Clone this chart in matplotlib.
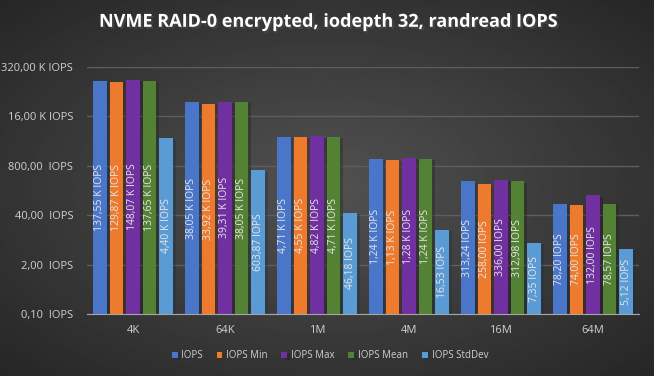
import matplotlib
matplotlib.use("Agg")
import matplotlib.pyplot as plt
import matplotlib.patheffects as pe
import numpy as np

categorias = ["4K", "64K", "1M", "4M", "16M", "64M"]
series = ["IOPS", "IOPS Min", "IOPS Max", "IOPS Mean", "IOPS StdDev"]
iops = [137550, 38050, 4710, 1240, 313.24, 78.20]
iops_min = [129870, 33920, 4550, 1130, 258.00, 74.00]
iops_max = [148070, 39310, 4820, 1280, 336.00, 132.00]
iops_mean = [137650, 38050, 4710, 1240, 312.98, 78.57]
iops_std = [4400, 603.87, 46.18, 16.53, 7.35, 5.12]
valores = [iops, iops_min, iops_max, iops_mean, iops_std]
colores = ["#4a76c9", "#ee7a2d", "#7030a0", "#548235", "#5a9bd5"]
ticks_y = [0.1, 2, 40, 800, 16000, 320000]


def fmt(v, doble=False):
    if v >= 1000:
        s = f"{v / 1000:.2f} K IOPS"
    else:
        s = f"{v:.2f}" + ("  IOPS" if doble else " IOPS")
    return s.replace(".", ",")


plt.rcParams["font.family"] = ["Open Sans", "DejaVu Sans"]
fig = plt.figure(figsize=(6.54, 3.76), dpi=100)

# fondo con degradado radial
bg = fig.add_axes([0, 0, 1, 1], zorder=-10)
yy, xx = np.mgrid[-1:1:200j, -1:1:300j]
r = np.sqrt(xx ** 2 + yy ** 2) / np.sqrt(2)
bg.imshow(0.32 - 0.17 * r, cmap="gray", vmin=0, vmax=1, aspect="auto",
          extent=[0, 1, 0, 1])
bg.axis("off")

ax = fig.add_axes([0.133, 0.165, 0.844, 0.657])
ax.set_facecolor("none")
ax.set_yscale("log")
ax.set_ylim(0.1, 320000)
ax.set_xlim(-0.5, len(categorias) - 0.5)

x = np.arange(len(categorias))
paso = 0.18
ancho = 0.148
for i, (nombre, vals, col) in enumerate(zip(series, valores, colores)):
    pos = x + (i - 2) * paso
    barras = ax.bar(pos, np.array(vals) - 0.1, bottom=0.1, width=ancho,
                    color=col, label=nombre, zorder=3)
    for b in barras:
        b.set_path_effects([pe.SimplePatchShadow(offset=(2, -1), alpha=0.35),
                            pe.Normal()])
    for p, v in zip(pos, vals):
        ax.text(p, np.sqrt(0.1 * v), fmt(v), rotation=90, ha="center",
                va="center", fontsize=7.5, color="#e6e6e6", zorder=4)

ax.set_yticks(ticks_y)
ax.set_yticklabels([fmt(t, doble=True) for t in ticks_y])
ax.minorticks_off()
ax.set_xticks(x)
ax.set_xticklabels(categorias)
ax.tick_params(axis="y", length=0, pad=10, labelsize=8, labelcolor="#d0d0d0")
ax.tick_params(axis="x", length=0, pad=8, labelsize=8, labelcolor="#d0d0d0")
ax.grid(axis="y", color="#5e5e5e", linewidth=1, zorder=0)
for lado in ["top", "right", "left"]:
    ax.spines[lado].set_visible(False)
ax.spines["bottom"].set_color("#a6a6a6")
ax.spines["bottom"].set_zorder(5)

fig.text(0.5, 0.942, "NVME RAID-0 encrypted, iodepth 32, randread IOPS",
         ha="center", va="center", fontsize=13, fontweight="bold",
         color="white",
         path_effects=[pe.withSimplePatchShadow(offset=(1.5, -1.5), alpha=0.6)])

ax.legend(loc="center", bbox_to_anchor=(0.44, -0.17), ncol=5, frameon=False,
          fontsize=7, labelcolor="#d0d0d0", handlelength=0.6, handleheight=0.6,
          handletextpad=0.4, columnspacing=1.4)

fig.savefig("out.png", dpi=100)
